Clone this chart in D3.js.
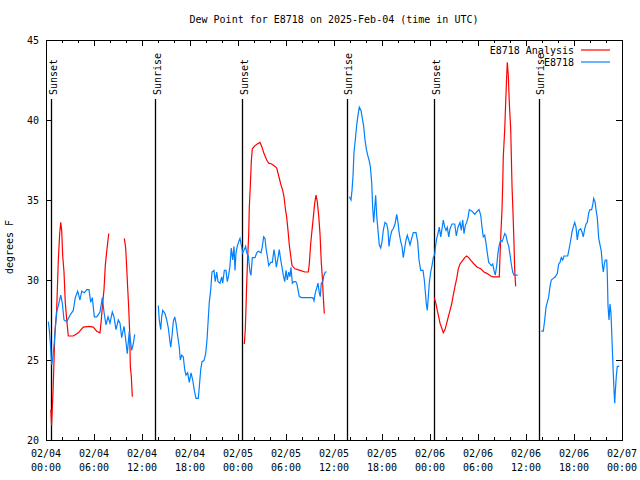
<!DOCTYPE html>
<html>
<head>
<meta charset="utf-8">
<script src="https://cdn.jsdelivr.net/npm/d3@7"></script>
<style>
  body { margin: 0; background: #fff; }
  svg text { font-family: "DejaVu Sans Mono", monospace; font-size: 10px; fill: #000; }
</style>
</head>
<body>
<svg id="chart" width="640" height="480"></svg>
<script>
// ---- data (time in hours since 2025-02-04 00:00 UTC, dew point in °F) ----
const titleText = "Dew Point for E8718 on 2025-Feb-04 (time in UTC)";
const yLabel = "degrees F";
const seriesNames = ["E8718 Analysis", "E8718"];
const seriesColors = ["#ff0000", "#0080ff"];

// observed station (blue), segments separated by null gaps
const obsTime = [
  0.29,0.41,0.54,0.71,0.84,1.04,1.21,1.375,1.54,1.84,2.04,2.25,2.59,3.0,3.41,3.66,3.96,4.25,4.46,4.79,5.09,5.375,5.59,5.79,6.04,6.34,6.75,7.04,7.25,7.5,7.75,8.0,8.29,8.5,8.75,9.04,9.25,9.46,9.75,9.91,10.16,10.41,10.71,10.91,11.09,
  null,
  14.04,14.16,14.34,14.46,14.59,14.875,15.09,15.29,15.41,15.59,15.75,15.91,16.09,16.25,16.46,16.66,16.79,16.96,17.16,17.34,17.5,17.71,17.91,18.125,18.34,18.54,18.75,19.04,19.16,19.34,19.5,19.75,19.96,20.125,20.25,20.41,20.59,20.75,21.0,21.16,21.34,21.5,21.75,21.96,22.09,22.29,22.5,22.66,22.84,23.0,23.16,23.34,23.5,23.625,23.75,23.91,24.09,24.25,24.41,24.59,24.79,24.96,25.09,25.29,25.5,25.625,25.79,26.125,26.34,26.54,26.875,27.04,27.21,27.375,27.5,27.66,27.84,28.09,28.29,28.5,28.625,28.79,29.0,29.16,29.34,29.5,29.66,29.84,30.0,30.16,30.34,30.5,30.625,30.79,31.0,31.21,31.34,31.5,31.66,31.96,32.375,32.79,33.09,33.34,33.5,33.66,33.84,34.0,34.16,34.29,34.41,34.59,34.75,34.91,35.09,
  null,
  37.91,38.125,38.25,38.375,38.5,38.66,38.84,39.0,39.16,39.375,39.54,39.71,39.875,40.04,40.21,40.375,40.54,40.71,40.84,40.96,41.09,41.21,41.34,41.5,41.66,41.84,42.0,42.16,42.375,42.59,42.75,42.875,43.04,43.25,43.41,43.625,43.84,44.0,44.16,44.34,44.5,44.66,44.84,45.0,45.16,45.34,45.5,45.66,45.91,46.25,46.46,46.625,46.84,47.125,47.29,47.41,47.54,47.66,47.79,47.91,48.09,48.25,48.41,48.59,48.71,48.84,49.0,49.16,49.34,49.5,49.66,49.84,50.0,50.16,50.34,50.5,50.75,51.09,51.29,51.5,51.75,51.91,52.09,52.25,52.41,52.59,52.75,52.91,53.25,53.59,53.91,54.125,54.34,54.5,54.66,54.84,55.0,55.16,55.34,55.5,55.66,55.84,56.0,56.16,56.34,56.5,56.66,56.84,57.0,57.16,57.34,57.5,57.66,57.84,58.0,58.16,58.34,58.5,58.96,
  null,
  61.91,62.16,62.34,62.5,62.66,62.84,63.0,63.16,63.41,63.66,63.91,64.09,64.25,64.41,64.59,64.75,65.0,65.21,65.41,65.59,65.75,65.91,66.09,66.25,66.41,66.59,66.84,67.0,67.16,67.34,67.5,67.66,67.84,68.0,68.21,68.375,68.46,68.625,68.75,68.91,69.09,69.25,69.41,69.54,69.66,69.79,69.91,70.09,70.16,70.25,70.375,70.5,70.625,70.75,70.875,71.0,71.09,71.16,71.29,71.41,71.66
];
const obsValue = [
  27.4,26.9,26.1,24.7,25.1,26.1,27.3,28.1,28.4,29.06,28.56,27.5,27.4,27.8,28.1,28.9,29.3,28.75,29.3,29.2,29.4,29.4,28.6,28.9,27.7,27.7,28.0,28.9,28.0,27.2,27.7,27.3,28.0,27.7,26.9,27.5,27.3,26.4,27.1,26.5,25.4,26.8,25.6,26.0,26.6,
  null,
  28.4,27.5,26.9,27.7,28.1,27.9,27.5,27.0,26.5,25.8,26.5,27.4,27.7,27.3,26.5,25.8,25.0,25.3,25.2,24.4,24.06,24.2,23.6,24.2,23.75,23.1,22.6,22.6,23.3,24.4,24.9,24.96,25.4,26.25,27.3,28.6,29.4,30.5,30.6,29.9,30.5,29.9,29.8,30.2,29.8,30.6,30.6,29.9,30.3,30.9,32.0,31.25,32.1,30.6,31.7,32.1,32.4,32.6,32.2,31.7,31.9,32.1,31.7,31.5,30.5,30.3,31.4,31.4,31.7,31.8,31.7,32.1,32.7,32.6,32.0,31.5,30.9,31.1,31.1,31.9,31.5,30.8,31.4,31.9,31.25,30.8,30.3,29.9,30.6,30.0,30.5,30.2,30.8,29.8,29.9,29.9,29.8,29.4,28.96,28.9,28.9,28.9,28.9,28.9,28.7,29.2,29.5,29.8,29.2,28.96,29.8,29.9,30.3,30.5,30.5,
  null,
  35.2,35.0,35.6,36.5,38.0,38.75,39.7,40.3,40.8,40.6,40.1,39.6,38.75,38.2,37.8,37.5,37.1,36.1,34.5,33.6,34.5,35.3,34.0,33.1,32.2,32.0,32.4,33.1,33.6,33.5,33.1,32.1,32.7,33.1,33.2,33.5,34.1,33.6,32.9,32.4,32.1,31.4,32.0,32.5,32.8,32.5,32.2,32.5,32.96,32.96,32.4,31.25,30.6,30.6,30.0,29.3,28.5,28.1,28.96,29.8,30.5,30.9,31.4,31.6,32.2,32.6,32.9,33.3,32.7,33.2,33.75,33.3,33.1,33.3,32.7,33.2,33.5,33.5,32.75,33.3,33.6,33.1,33.75,32.9,33.4,33.6,33.9,34.4,34.3,34.1,34.3,34.4,34.06,33.3,32.7,32.8,32.3,31.7,31.1,31.0,30.9,31.0,30.6,30.3,30.9,31.7,32.2,32.5,32.4,32.6,32.9,32.8,32.4,32.1,31.6,31.0,30.5,30.3,30.3,
  null,
  26.8,26.8,27.5,28.3,28.6,28.96,29.6,30.0,30.1,30.2,30.4,31.0,31.1,31.4,31.25,31.5,31.5,31.5,32.0,32.5,33.0,33.3,33.6,33.3,32.5,33.1,33.2,33.0,32.7,33.2,33.5,33.6,34.2,34.4,34.4,34.8,35.1,34.9,34.4,33.9,32.6,32.2,31.8,31.0,30.5,31.0,31.25,31.25,30.4,28.4,27.5,28.5,27.9,26.25,24.6,23.1,22.3,23.0,24.0,24.6,24.6
];

// analysis (red)
const anaTime = [
  0.6,0.7,0.9,1.1,1.33,1.54,1.71,1.84,1.96,2.09,2.25,2.41,2.59,2.79,3.41,4.04,4.66,5.41,5.91,6.34,6.75,6.91,7.09,7.25,7.41,7.59,7.75,7.84,
  null,
  9.79,9.96,10.09,10.21,10.34,10.46,10.54,10.66,10.79,
  null,
  24.79,24.91,25.0,25.09,25.21,25.34,25.41,25.54,25.66,25.79,26.125,26.41,26.75,27.0,27.25,27.59,27.84,28.21,28.625,28.84,29.09,29.34,29.59,29.75,29.91,30.09,30.25,30.41,30.59,30.75,31.125,31.75,32.375,32.79,32.91,33.09,33.25,33.41,33.59,33.75,33.91,34.09,34.25,34.41,34.54,34.66,34.79,
  null,
  48.54,48.75,48.91,49.09,49.25,49.46,49.66,49.875,50.09,50.29,50.5,50.71,50.91,51.125,51.34,51.54,51.75,52.04,52.34,52.59,52.84,53.16,53.5,53.91,54.34,54.75,55.16,55.59,55.91,56.34,56.66,56.84,57.0,57.09,57.16,57.34,57.46,57.59,57.66,57.79,57.91,58.09,58.25,58.375,58.5,58.59,58.71
];
const anaValue = [
  21.9,20.9,23.3,26.6,28.1,31.25,32.9,33.6,33.1,31.5,30.5,28.6,27.5,26.5,26.5,26.7,27.06,27.1,27.06,26.8,26.7,27.5,28.6,29.4,30.9,31.8,32.5,32.9,
  null,
  32.6,32.0,30.75,29.5,28.25,26.7,24.6,24.0,22.7,
  null,
  26.0,26.9,28.3,29.8,31.4,32.9,34.5,35.9,37.4,38.2,38.4,38.5,38.6,38.3,37.9,37.5,37.3,37.25,37.1,37.0,36.5,36.0,35.6,35.2,34.5,33.9,33.1,32.2,31.5,30.9,30.7,30.6,30.5,30.5,31.0,32.3,33.1,33.9,34.8,35.3,34.9,34.0,32.9,31.1,30.2,28.96,27.9,
  null,
  28.9,28.5,28.1,27.7,27.3,27.0,26.7,26.9,27.3,27.7,28.1,28.5,29.06,29.6,30.1,30.7,31.0,31.2,31.4,31.5,31.4,31.2,31.0,30.8,30.7,30.5,30.4,30.25,30.2,30.2,30.2,32.7,34.4,36.0,37.7,39.4,41.1,42.8,43.6,42.8,41.1,39.4,35.9,34.2,32.3,30.6,29.6
];

// sunrise / sunset markers
const eventTime = [0.625, 13.66, 24.54, 37.6, 48.54, 61.6];
const eventLabel = ["Sunset", "Sunrise", "Sunset", "Sunrise", "Sunset", "Sunrise"];

// axes
const xMajorTicks = [0, 6, 12, 18, 24, 30, 36, 42, 48, 54, 60, 66, 72];
const xTickLabels = [
  ["02/04","00:00"],["02/04","06:00"],["02/04","12:00"],["02/04","18:00"],
  ["02/05","00:00"],["02/05","06:00"],["02/05","12:00"],["02/05","18:00"],
  ["02/06","00:00"],["02/06","06:00"],["02/06","12:00"],["02/06","18:00"],
  ["02/07","00:00"]
];
const xMinorTicks = d3.range(0, 73, 2);
const yTicks = [20, 25, 30, 35, 40, 45];

// ---- drawing ----
const W = 640, H = 480;
const m = { left: 46, right: 622, top: 40, bottom: 440 };
const svg = d3.select("#chart");

const x = d3.scaleLinear().domain([0, 72]).range([m.left, m.right]);
const y = d3.scaleLinear().domain([20, 45]).range([m.bottom, m.top]);

// title
svg.append("text").attr("x", (m.left + m.right) / 2).attr("y", 23)
  .attr("text-anchor", "middle").text(titleText);

// y label
svg.append("text").attr("transform", `translate(13,247) rotate(-90)`)
  .attr("text-anchor", "middle").text(yLabel);

// axes ticks (inward, mirrored)
function styleAxis(g) {
  g.select(".domain").remove();
  g.selectAll("line").attr("stroke", "#000").attr("shape-rendering", "crispEdges");
  g.selectAll("text").remove();
}
svg.append("g").attr("transform", `translate(0,${m.bottom})`)
  .call(d3.axisBottom(x).tickValues(xMinorTicks).tickSize(-3)).call(styleAxis);
svg.append("g").attr("transform", `translate(0,${m.bottom})`)
  .call(d3.axisBottom(x).tickValues(xMajorTicks).tickSize(-6)).call(styleAxis);
svg.append("g").attr("transform", `translate(0,${m.top})`)
  .call(d3.axisTop(x).tickValues(xMinorTicks).tickSize(-3)).call(styleAxis);
svg.append("g").attr("transform", `translate(0,${m.top})`)
  .call(d3.axisTop(x).tickValues(xMajorTicks).tickSize(-6)).call(styleAxis);
svg.append("g").attr("transform", `translate(${m.left},0)`)
  .call(d3.axisLeft(y).tickValues(yTicks).tickSize(-6)).call(styleAxis);
svg.append("g").attr("transform", `translate(${m.right},0)`)
  .call(d3.axisRight(y).tickValues(yTicks).tickSize(-6)).call(styleAxis);

// x tick labels
const xl = svg.append("g");
xMajorTicks.forEach((t, i) => {
  const tx = xl.append("text").attr("text-anchor", "middle");
  tx.append("tspan").attr("x", x(t)).attr("y", 457).text(xTickLabels[i][0]);
  tx.append("tspan").attr("x", x(t)).attr("y", 471).text(xTickLabels[i][1]);
});
// y tick labels
yTicks.forEach(v => {
  svg.append("text").attr("x", 39).attr("y", y(v) + 4)
    .attr("text-anchor", "end").text(v);
});

// event lines
eventTime.forEach((t, i) => {
  svg.append("line").attr("x1", Math.round(x(t)) + 0.5).attr("x2", Math.round(x(t)) + 0.5)
    .attr("y1", 99).attr("y2", m.bottom).attr("stroke", "#000").attr("stroke-width", 1.3);
  svg.append("text")
    .attr("transform", `translate(${x(t) + 5.5},95) rotate(-90)`)
    .attr("text-anchor", "start").text(eventLabel[i]);
});

// series
function pts(ts, vs) { return ts.map((t, i) => (t === null ? null : [t, vs[i]])); }
const line = d3.line().defined(d => d !== null).x(d => x(d[0])).y(d => y(d[1]));
svg.append("path").datum(pts(anaTime, anaValue)).attr("d", line)
  .attr("fill", "none").attr("stroke", seriesColors[0]).attr("stroke-width", 1.2);
svg.append("path").datum(pts(obsTime, obsValue)).attr("d", line)
  .attr("fill", "none").attr("stroke", seriesColors[1]).attr("stroke-width", 1.2);

// legend
seriesNames.forEach((name, i) => {
  const ly = 50 + i * 12;
  svg.append("text").attr("x", 574).attr("y", ly + 4).attr("text-anchor", "end").text(name);
  svg.append("line").attr("x1", 581).attr("x2", 610).attr("y1", ly).attr("y2", ly)
    .attr("stroke", seriesColors[i]).attr("stroke-width", 1.2);
});

// border
svg.append("rect").attr("x", m.left + 0.5).attr("y", m.top + 0.5)
  .attr("width", m.right - m.left).attr("height", m.bottom - m.top)
  .attr("fill", "none").attr("stroke", "#000").attr("shape-rendering", "crispEdges");
</script>
</body>
</html>
